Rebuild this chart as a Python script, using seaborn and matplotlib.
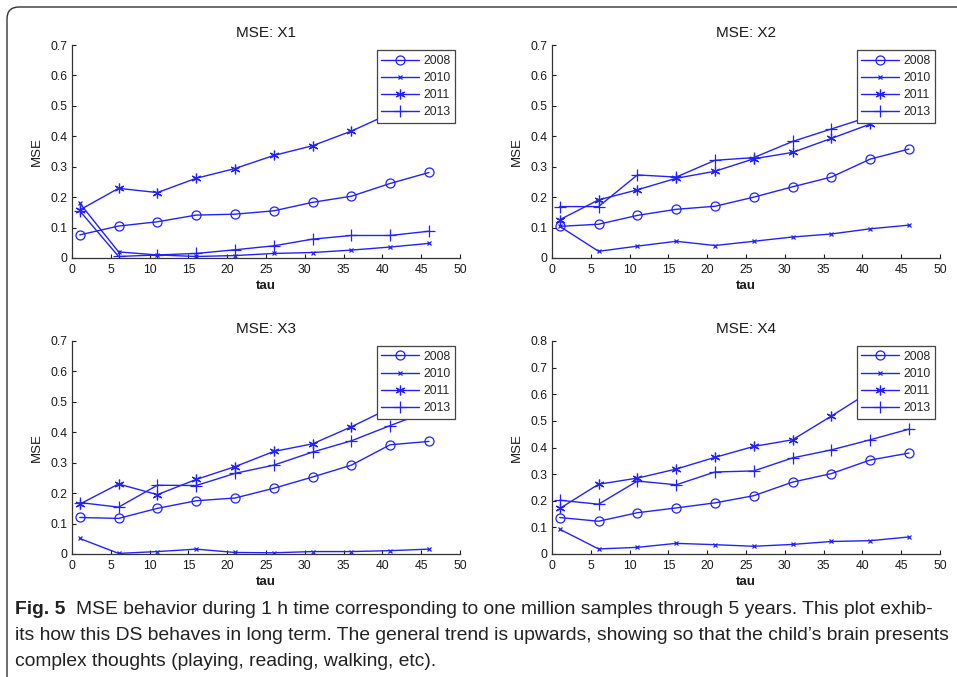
import matplotlib
matplotlib.use("Agg")
import matplotlib.pyplot as plt
import seaborn as sns
import numpy as np
import pandas as pd
from matplotlib.path import Path
from matplotlib.patches import PathPatch

sns.set_theme(style="white")
plt.rcParams['font.family'] = ['Liberation Sans', 'DejaVu Sans']

tau = [1, 6, 11, 16, 21, 26, 31, 36, 41, 46]
years = ["2008", "2010", "2011", "2013"]
titles = ["MSE: X1", "MSE: X2", "MSE: X3", "MSE: X4"]
ymax = [0.7, 0.7, 0.7, 0.8]

x1_2008 = [0.076, 0.105, 0.119, 0.141, 0.144, 0.155, 0.183, 0.203, 0.245, 0.281]
x1_2010 = [0.180, 0.020, 0.010, 0.005, 0.008, 0.015, 0.018, 0.026, 0.036, 0.048]
x1_2011 = [0.158, 0.229, 0.215, 0.262, 0.294, 0.337, 0.369, 0.417, 0.475, 0.530]
x1_2013 = [0.155, 0.005, 0.010, 0.015, 0.027, 0.040, 0.062, 0.074, 0.074, 0.088]

x2_2008 = [0.104, 0.111, 0.140, 0.160, 0.170, 0.200, 0.234, 0.266, 0.325, 0.358]
x2_2010 = [0.104, 0.022, 0.039, 0.055, 0.041, 0.055, 0.069, 0.079, 0.096, 0.108]
x2_2011 = [0.126, 0.191, 0.224, 0.262, 0.285, 0.326, 0.347, 0.393, 0.440, 0.480]
x2_2013 = [0.169, 0.169, 0.273, 0.266, 0.321, 0.330, 0.383, 0.424, 0.465, 0.500]

x3_2008 = [0.120, 0.117, 0.150, 0.175, 0.184, 0.216, 0.253, 0.292, 0.359, 0.370]
x3_2010 = [0.051, 0.002, 0.008, 0.016, 0.005, 0.004, 0.008, 0.008, 0.011, 0.016]
x3_2011 = [0.164, 0.230, 0.195, 0.245, 0.287, 0.337, 0.362, 0.418, 0.480, 0.520]
x3_2013 = [0.169, 0.154, 0.226, 0.225, 0.265, 0.292, 0.335, 0.372, 0.422, 0.470]

x4_2008 = [0.137, 0.123, 0.155, 0.173, 0.192, 0.219, 0.270, 0.302, 0.353, 0.379]
x4_2010 = [0.093, 0.019, 0.025, 0.040, 0.035, 0.029, 0.036, 0.047, 0.050, 0.064]
x4_2011 = [0.171, 0.262, 0.285, 0.319, 0.363, 0.404, 0.429, 0.518, 0.610, 0.680]
x4_2013 = [0.202, 0.187, 0.274, 0.260, 0.308, 0.312, 0.361, 0.391, 0.429, 0.469]

panels = [
    [x1_2008, x1_2010, x1_2011, x1_2013],
    [x2_2008, x2_2010, x2_2011, x2_2013],
    [x3_2008, x3_2010, x3_2011, x3_2013],
    [x4_2008, x4_2010, x4_2011, x4_2013],
]

caption_bold = "Fig. 5"
caption_lines = [
    "MSE behavior during 1 h time corresponding to one million samples through 5 years. This plot exhib-",
    "its how this DS behaves in long term. The general trend is upwards, showing so that the child\u2019s brain presents",
    "complex thoughts (playing, reading, walking, etc).",
]

W, H = 957, 677
fig = plt.figure(figsize=(W / 100, H / 100), dpi=100)
fig.patch.set_facecolor("white")

blue = "#2222ff"
marker_styles = [
    dict(marker="o", markersize=6.5, markerfacecolor="none", markeredgewidth=0.9),
    dict(marker="x", markersize=3.5, markeredgewidth=0.9),
    dict(marker=(6, 2, 0), markersize=7, markeredgewidth=0.9),
    dict(marker="+", markersize=8, markeredgewidth=0.9),
]

# axes boxes in pixels: (left, top, right, bottom)
boxes = [(72, 45, 460, 258), (552, 45, 940, 258), (72, 341, 460, 554), (552, 341, 940, 554)]
txt = "#1a1a1a"

for i, (l, t, r, b) in enumerate(boxes):
    ax = fig.add_axes([l / W, 1 - b / H, (r - l) / W, (b - t) / H])
    for j, yr in enumerate(years):
        sns.lineplot(x=tau, y=panels[i][j], ax=ax, color=blue, linewidth=1.0,
                     markeredgecolor=blue, label=yr, errorbar=None, sort=False,
                     **marker_styles[j])
    ax.set_xlim(0, 50)
    ax.set_ylim(0, ymax[i])
    ax.set_xticks(np.arange(0, 51, 5))
    yt = np.round(np.arange(0, ymax[i] + 0.001, 0.1), 1)
    ax.set_yticks(yt)
    ax.set_yticklabels(["0"] + [f"{v:.1f}" for v in yt[1:]])
    ax.tick_params(direction="in", length=3, width=0.8, labelsize=8.8, colors=txt,
                   left=True, bottom=True)
    ax.tick_params(axis="x", pad=4.5)
    ax.tick_params(axis="y", pad=3)
    for s in ["top", "right"]:
        ax.spines[s].set_visible(False)
    for s in ["left", "bottom"]:
        ax.spines[s].set_color("#333333")
        ax.spines[s].set_linewidth(0.9)
    ax.set_title(titles[i], fontsize=11, pad=6, color=txt)
    ax.set_xlabel("tau", fontsize=9.5, fontweight="bold", labelpad=3, color=txt)
    ax.set_ylabel("MSE", fontsize=9.5, labelpad=6, color=txt)
    leg = ax.legend(loc="upper right", fontsize=8.8, frameon=True, fancybox=False,
                    borderpad=0.4, labelspacing=0.42, handlelength=3.1,
                    handletextpad=0.3, borderaxespad=0.4)
    leg.get_frame().set_edgecolor("#444444")
    leg.get_frame().set_linewidth(0.9)
    leg.get_frame().set_alpha(1)

# decorative frame with a rounded top-left corner
dpi = 100.0
x0, y0, rad = 7, 7, 12
verts = [(x0, H + 5), (x0, y0 + rad), (x0, y0), (x0 + rad, y0), (W + 5, y0)]
codes = [Path.MOVETO, Path.LINETO, Path.CURVE3, Path.CURVE3, Path.LINETO]
verts_in = [(vx / dpi, (H - vy) / dpi) for vx, vy in verts]
frame = PathPatch(Path(verts_in, codes), transform=fig.dpi_scale_trans,
                  facecolor="none", edgecolor="#333333", linewidth=1.0, clip_on=False)
fig.add_artist(frame)

# caption
cap_family = ["Liberation Sans", "DejaVu Sans"]
cap_size = 13.9
line_y = [610, 636, 662]
renderer = fig.canvas.get_renderer()
tb = fig.text(15 / W, 1 - line_y[0] / H, caption_bold, fontsize=cap_size, fontweight="bold",
              family=cap_family, va="center", ha="left", color="#222222")
ext = tb.get_window_extent(renderer=renderer)
fig.text((ext.x1 + 11) / W, 1 - line_y[0] / H, caption_lines[0], fontsize=cap_size,
         family=cap_family, va="center", ha="left", color="#222222")
for k in (1, 2):
    fig.text(15 / W, 1 - line_y[k] / H, caption_lines[k], fontsize=cap_size,
             family=cap_family, va="center", ha="left", color="#222222")

fig.savefig("out.png", dpi=100, facecolor="white")
